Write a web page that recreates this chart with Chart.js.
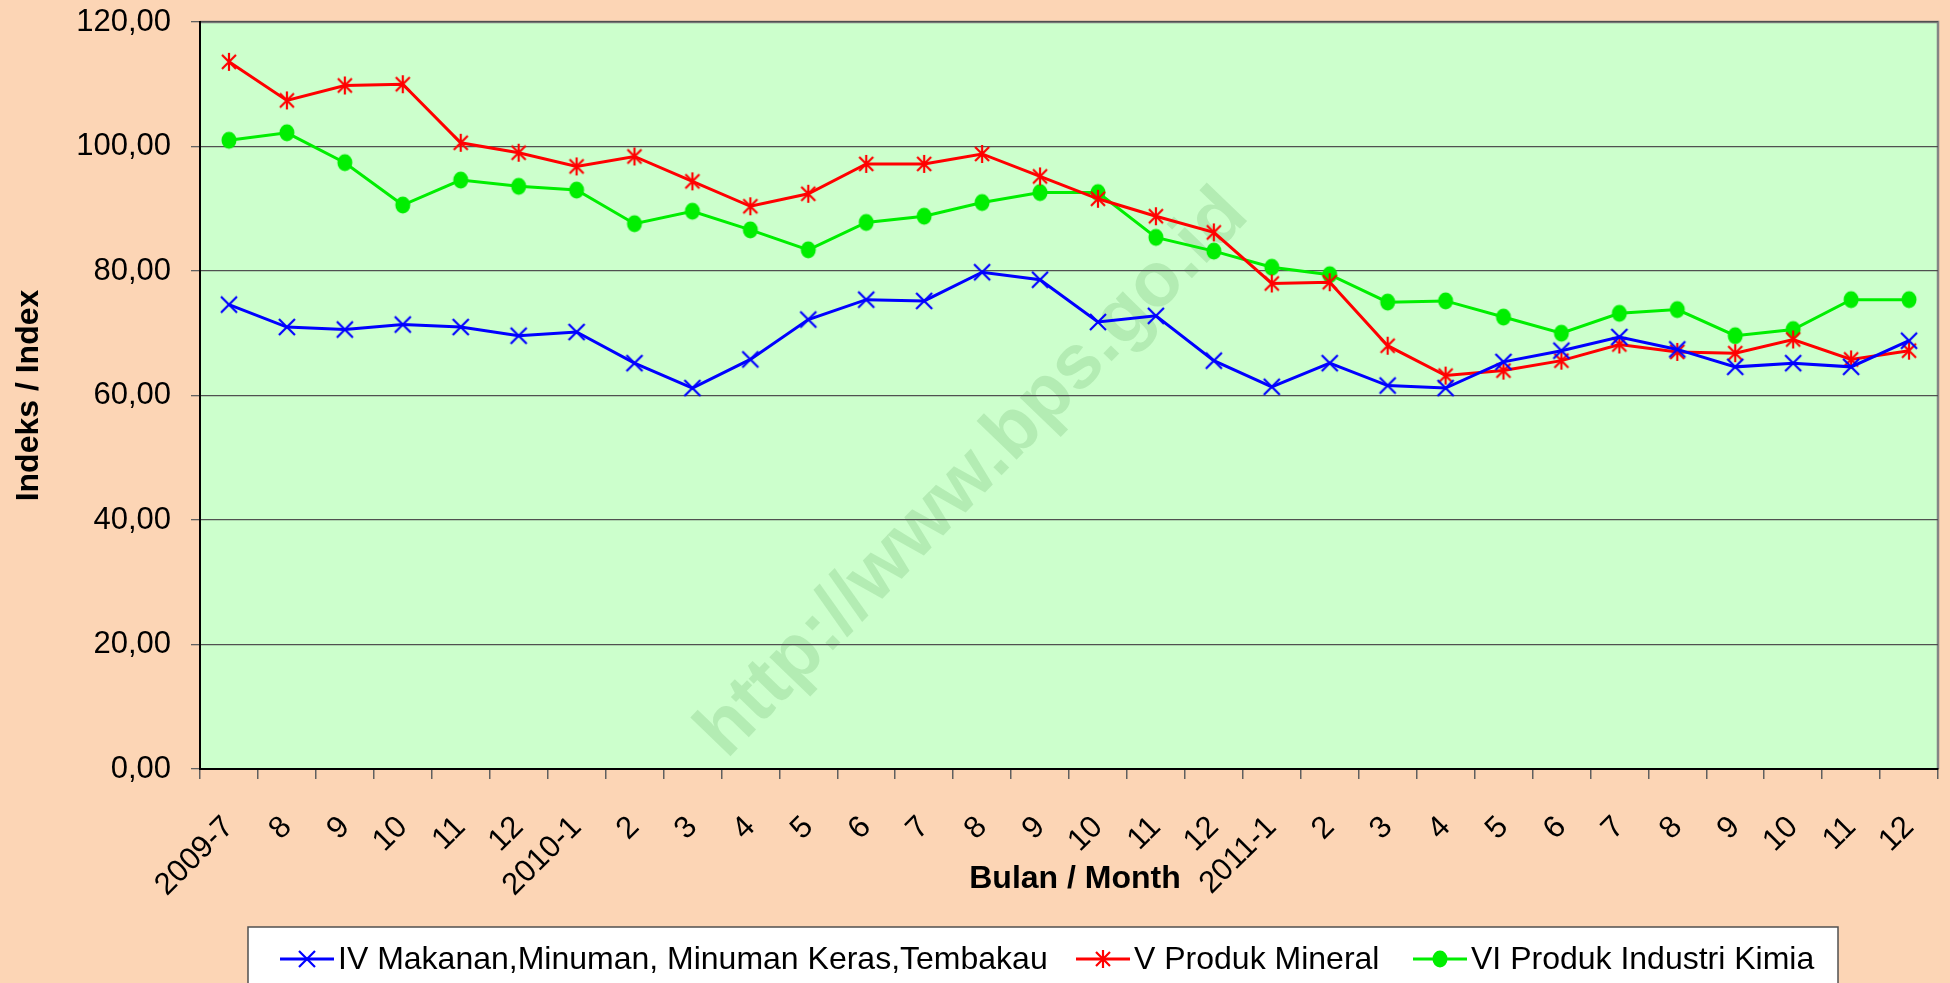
<!DOCTYPE html>
<html>
<head>
<meta charset="utf-8">
<script src="https://cdn.jsdelivr.net/npm/chart.js@4.4.1/dist/chart.umd.min.js"></script>
<style>
  body { margin: 0; background: #FCD5B5; }
  #wrap { width: 1950px; height: 983px; }
</style>
</head>
<body>
<div id="wrap"><canvas id="grafik" width="1950" height="983"></canvas></div>
<script>
// bulan
const bulan = ['2009-7', '8', '9', '10', '11', '12', '2010-1', '2', '3', '4', '5', '6',
    '7', '8', '9', '10', '11', '12', '2011-1', '2', '3', '4', '5', '6', '7', '8', '9', '10', '11', '12'];

const makanan = [74.6, 71.0, 70.6, 71.4, 71.0, 69.6, 70.2, 65.2, 61.2, 65.8, 72.2, 75.4,
    75.2, 79.8, 78.6, 71.8, 72.8, 65.6, 61.4, 65.2, 61.6, 61.2, 65.4, 67.2, 69.4, 67.4, 64.6, 65.2, 64.6, 68.8];

const mineral = [113.6, 107.4, 109.8, 110.0, 100.6, 99.0, 96.8, 98.4, 94.4, 90.4, 92.4, 97.2,
    97.2, 98.8, 95.2, 91.6, 88.8, 86.2, 78.0, 78.2, 68.0, 63.2, 64.0, 65.6, 68.2, 67.0, 66.8, 69.0, 65.8, 67.2];

const kimia = [101.0, 102.2, 97.4, 90.6, 94.6, 93.6, 93.0, 87.6, 89.6, 86.6, 83.4, 87.8,
    88.8, 91.0, 92.6, 92.6, 85.4, 83.2, 80.6, 79.4, 75.0, 75.2, 72.6, 70.0, 73.2, 73.8, 69.6, 70.6, 75.4, 75.4];

const namaSeri = ['IV Makanan,Minuman, Minuman Keras,Tembakau', 'V Produk Mineral', 'VI Produk Industri Kimia'];
const yTicks = [0, 20, 40, 60, 80, 100, 120];

const huruf = '"Liberation Sans", Arial, sans-serif';

function buatPenanda(jenis, warna) {
    let c = document.createElement('canvas');
    c.width = 22; c.height = 22;
    let g = c.getContext('2d');
    g.strokeStyle = warna;
    g.fillStyle = warna;
    g.lineWidth = 2.2;
    g.beginPath();
    if (jenis === 'x') {
        g.moveTo(3, 3); g.lineTo(19, 19);
        g.moveTo(19, 3); g.lineTo(3, 19);
        g.stroke();
    } else if (jenis === 'star') {
        g.moveTo(4, 4); g.lineTo(18, 18);
        g.moveTo(18, 4); g.lineTo(4, 18);
        g.moveTo(11, 2); g.lineTo(11, 20);
        g.stroke();
    } else {
        g.ellipse(11, 11, 7.5, 8.5, 0, 0, Math.PI * 2);
        g.fill();
    }
    return c;
}

const penanda = [buatPenanda('x', '#0000FF'), buatPenanda('star', '#FF0000'), buatPenanda('dot', '#00EE00')];
const warnaGaris = ['#0000FF', '#FF0000', '#00EE00'];
const posLegenda = [280, 1076, 1413];

const latarPlugin = {
    id: 'latar',
    beforeDraw(chart) {
        let ctx = chart.ctx, a = chart.chartArea;
        ctx.save();
        ctx.fillStyle = '#FCD5B5';
        ctx.fillRect(0, 0, chart.width, chart.height);
        ctx.fillStyle = '#CCFFCC';
        ctx.fillRect(a.left, a.top, a.right - a.left, a.bottom - a.top);
        ctx.strokeStyle = '#858585';
        ctx.lineWidth = 2.5;
        ctx.beginPath();
        ctx.moveTo(a.left, a.top);
        ctx.lineTo(a.right, a.top);
        ctx.lineTo(a.right, a.bottom);
        ctx.stroke();

        // tanda air
        ctx.translate(a.left + (a.right - a.left) * 0.445, a.top + (a.bottom - a.top) * 0.605);
        ctx.rotate(-46 * Math.PI / 180);
        ctx.font = 'bold 77px ' + huruf;
        ctx.fillStyle = 'rgba(0, 100, 0, 0.12)';
        ctx.textAlign = 'center';
        ctx.textBaseline = 'middle';
        ctx.fillText('http://www.bps.go.id', 0, 0);
        ctx.restore();
    },
    afterDraw(chart) {
        let ctx = chart.ctx, a = chart.chartArea;
        ctx.save();
        // judul sumbu x
        ctx.font = 'bold 32px ' + huruf;
        ctx.fillStyle = '#000';
        ctx.textAlign = 'center';
        ctx.textBaseline = 'middle';
        ctx.fillText('Bulan / Month', (a.left + a.right) / 2 + 6, a.bottom + 110);

        // legenda
        ctx.fillStyle = '#FFFFFF';
        ctx.fillRect(248, 927, 1590, 70);
        ctx.strokeStyle = '#505050';
        ctx.lineWidth = 1.5;
        ctx.strokeRect(248, 927, 1590, 70);
        ctx.font = '32px ' + huruf;
        ctx.textAlign = 'left';
        let y = 959;
        for (let i = 0; i < namaSeri.length; i++) {
            let x = posLegenda[i];
            ctx.strokeStyle = warnaGaris[i];
            ctx.lineWidth = 3;
            ctx.beginPath();
            ctx.moveTo(x, y);
            ctx.lineTo(x + 54, y);
            ctx.stroke();
            ctx.drawImage(penanda[i], x + 27 - 11, y - 11);
            ctx.fillStyle = '#000';
            ctx.fillText(namaSeri[i], x + 58, y + 1);
        }
        ctx.restore();
    }
};

function buatDataset(label, data, i) {
    return {
        label: label,
        data: data,
        borderColor: warnaGaris[i],
        backgroundColor: warnaGaris[i],
        borderWidth: 3,
        pointStyle: penanda[i],
        pointRadius: 9,
        tension: 0
    };
}

let cvs = document.getElementById('grafik').getContext('2d');
let grafikIndeks = new Chart(cvs, {
    type: 'line',
    data: {
        labels: bulan,
        datasets: [
            buatDataset(namaSeri[0], makanan, 0),
            buatDataset(namaSeri[1], mineral, 1),
            buatDataset(namaSeri[2], kimia, 2)
        ]
    },
    options: {
        responsive: false,
        animation: false,
        layout: { padding: { top: 22, right: 5, left: 10, bottom: 74 } },
        plugins: {
            legend: { display: false },
            tooltip: { enabled: false }
        },
        scales: {
            x: {
                offset: true,
                afterFit(s) { s.paddingLeft = 0; s.paddingRight = 0; s.height = 140; },
                grid: { offset: true, drawOnChartArea: false, tickLength: 10, tickColor: '#606060', lineWidth: 1.5 },
                border: { color: '#000', width: 2 },
                ticks: {
                    autoSkip: false, maxRotation: 45, minRotation: 45, padding: 30,
                    color: '#000', font: { family: huruf, size: 31 }
                }
            },
            y: {
                min: 0, max: 120,
                afterBuildTicks(axis) { axis.ticks = yTicks.map(v => ({ value: v })); },
                afterFit(s) { s.paddingTop = 0; s.paddingBottom = 0; s.width = 190; },
                grid: { color: '#505050', lineWidth: 1.3, tickLength: 9, tickColor: '#606060' },
                border: { color: '#000', width: 2 },
                ticks: {
                    padding: 20, color: '#000',
                    font: { family: huruf, size: 31 },
                    callback: v => v.toFixed(2).replace('.', ',')
                },
                title: {
                    display: true, text: 'Indeks / Index', color: '#000',
                    font: { family: huruf, size: 32, weight: 'bold' },
                    padding: { top: 0, bottom: 27 }
                }
            }
        }
    },
    plugins: [latarPlugin]
});
</script>
</body>
</html>
